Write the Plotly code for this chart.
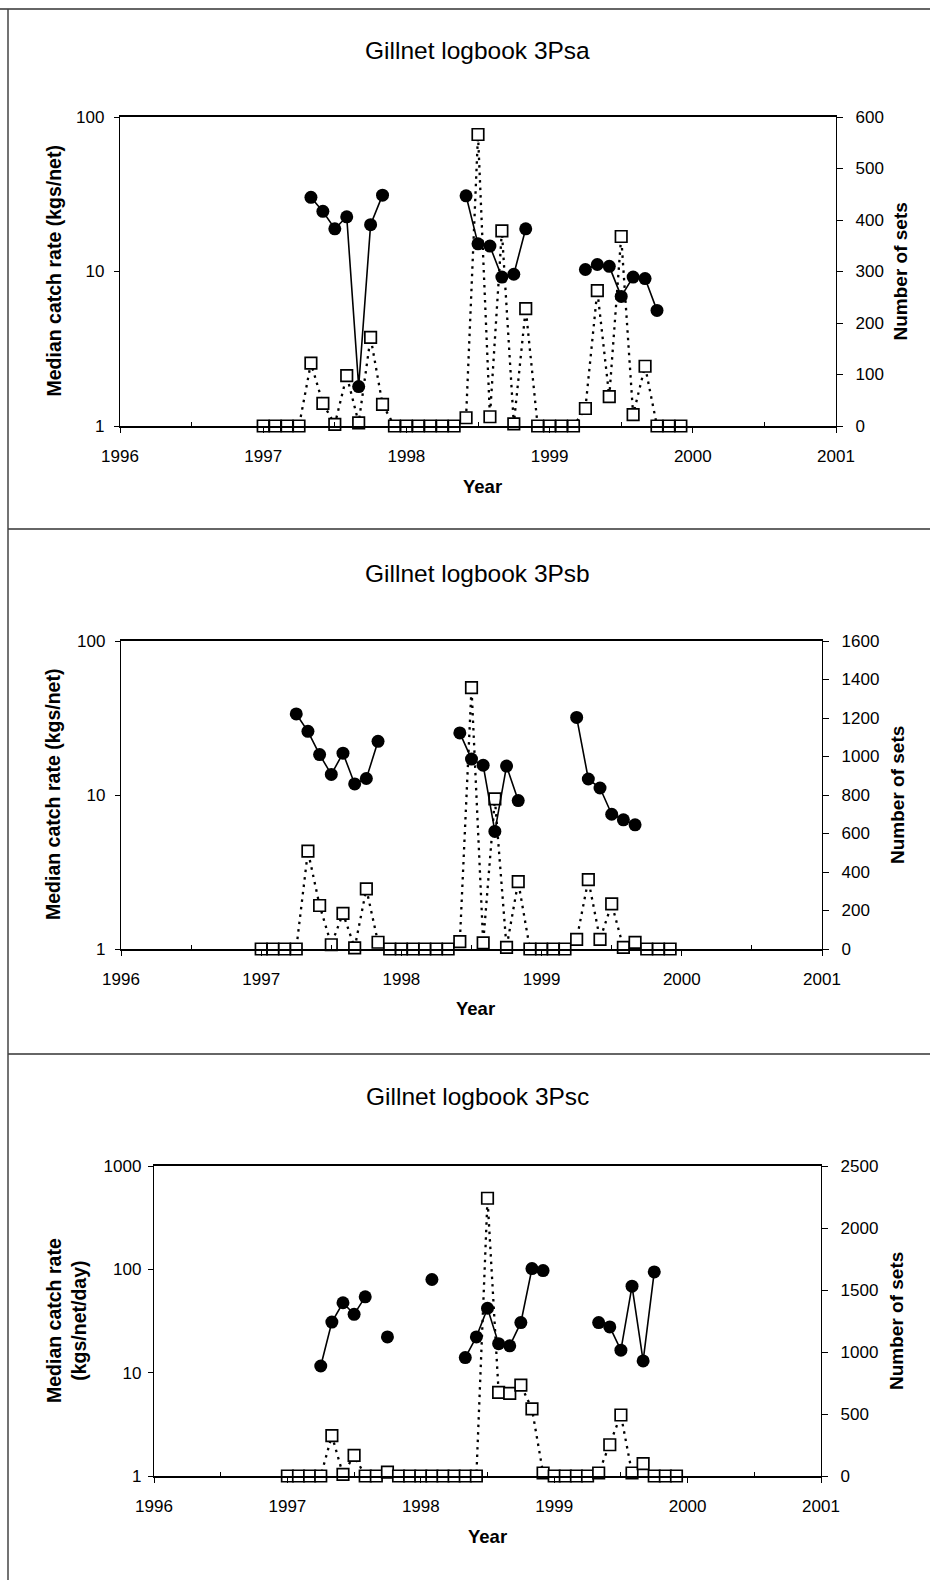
import plotly.graph_objects as go

W, H = 930, 1580

# ---------------- data ----------------
MONTHS = [f"{y}-{m:02d}" for y in (1997, 1998, 1999) for m in range(1, 13)]
X = [int(s[:4]) + (int(s[5:]) - 1) / 12 for s in MONTHS]

TITLES = ["Gillnet logbook 3Psa", "Gillnet logbook 3Psb", "Gillnet logbook 3Psc"]
LEFT_TITLES = ["Median catch rate (kgs/net)", "Median catch rate (kgs/net)",
               "Median catch rate<br>(kgs/net/day)"]
RIGHT_TITLE = "Number of sets"
X_TITLE = "Year"
YEAR_TICKS = [1996, 1997, 1998, 1999, 2000, 2001]

N = None
# 3Psa
sets_a = [0, 0, 0, 0, 122, 44, 3, 98, 6, 172, 42,
          0, 0, 0, 0, 0, 0,
          16, 566, 18, 379, 4, 228,
          0, 0, 0, 0,
          34, 263, 57, 368, 22, 116,
          0, 0, 0]
catch_a = [N, N, N, N, 30.2, 24.5, 18.9, 22.6, 1.8, 20.1, 31.2,
           N, N, N, N, N, N,
           30.9, 15.1, 14.6, 9.2, 9.6, 18.9,
           N, N, N, N,
           10.3, 11.1, 10.8, 6.9, 9.2, 9.0, 5.6,
           N, N]
# 3Psb
sets_b = [0, 0, 0, 0, 508, 226, 22, 185, 6, 312, 35,
          0, 0, 0, 0, 0, 0,
          38, 1358, 32, 780, 8, 350,
          0, 0, 0, 0,
          50, 360, 50, 234, 8, 34,
          0, 0, 0]
catch_b = [N, N, N, 33.6, 25.9, 18.3, 13.6, 18.7, 11.8, 12.8, 22.3,
           N, N, N, N, N, N,
           25.3, 17.1, 15.6, 5.8, 15.4, 9.2,
           N, N, N, N,
           31.9, 12.7, 11.1, 7.5, 6.9, 6.4,
           N, N, N]
# 3Psc
sets_c = [0, 0, 0, 0, 326, 13, 166, 0, 0, 32,
          0, 0, 0, 0, 0, 0, 0, 0,
          2240, 674, 666, 733, 541, 24,
          0, 0, 0, 0,
          24, 252, 492, 24, 99,
          0, 0, 0]
catch_c = [N, N, N, 11.6, 30.9, 47.5, 36.7, 54.2, N, 22.2,
           N, N, N, 79.7, N, N, 14.0, 22.2,
           42.0, 19.1, 18.2, 30.5, 101.8, 97.3,
           N, N, N, N,
           30.5, 27.7, 16.5, 68.7, 13.0, 94.4,
           N, N]

LOG_TICKS = [[1, 10, 100], [1, 10, 100], [1, 10, 100, 1000]]
SET_TICKS = [[0, 100, 200, 300, 400, 500, 600],
             [0, 200, 400, 600, 800, 1000, 1200, 1400, 1600],
             [0, 500, 1000, 1500, 2000, 2500]]

SETS = [sets_a, sets_b, sets_c]
CATCH = [catch_a, catch_b, catch_c]

# ---------------- layout geometry (pixels) ----------------
PANELS = [
    dict(l=120, r=836, t=117, b=426, title_y=51, xt_y=487, lt_x=53, rt_x=900),
    dict(l=121, r=822, t=641, b=949, title_y=574, xt_y=1009, lt_x=53, rt_x=897),
    dict(l=154, r=821, t=1166, b=1476, title_y=1096, xt_y=1536, lt_x=66, rt_x=896),
]

FONT = "Liberation Sans, Arial, Helvetica, sans-serif"

def px(x):
    return x / W

def py(y):
    return 1 - y / H

fig = go.Figure()
layout = dict(
    template="none",
    width=W, height=H, margin=dict(l=0, r=0, t=0, b=0, pad=0, autoexpand=False),
    paper_bgcolor="white", plot_bgcolor="white", showlegend=False,
    font=dict(family=FONT, color="black", size=17),
)
annotations = []
shapes = []

for i, p in enumerate(PANELS):
    k = i + 1
    xa = "x" if k == 1 else f"x{k}"
    ys = "y" if k == 1 else f"y{2 * k - 1}"
    yc = f"y{2 * k}"
    xkey = "xaxis" if k == 1 else f"xaxis{k}"
    yskey = "yaxis" if k == 1 else f"yaxis{2 * k - 1}"
    yckey = f"yaxis{2 * k}"

    fig.add_trace(go.Scatter(
        x=X, y=SETS[i], xaxis=xa, yaxis=ys, mode="lines+markers",
        line=dict(color="black", width=2.3, dash="2.5px,5px"),
        marker=dict(symbol="square", size=11.5, color="white",
                    line=dict(color="black", width=1.7)),
        cliponaxis=False, hoverinfo="skip"))
    fig.add_trace(go.Scatter(
        x=X, y=CATCH[i], xaxis=xa, yaxis=yc, mode="lines+markers",
        connectgaps=False,
        line=dict(color="black", width=1.6),
        marker=dict(symbol="circle", size=13, color="black"),
        cliponaxis=False, hoverinfo="skip"))

    layout[xkey] = dict(
        domain=[px(p["l"]), px(p["r"])], anchor=ys, automargin=False,
        range=[1996, 2001], tickvals=YEAR_TICKS,
        ticktext=[str(v) for v in YEAR_TICKS],
        ticks="outside", ticklen=5, tickwidth=1.2, tickcolor="black",
        ticklabelstandoff=9,
        minor=dict(tickvals=[v + 0.5 for v in YEAR_TICKS[:-1]], ticks="inside",
                   ticklen=4, tickcolor="black"),
        showline=True, linewidth=1.7, linecolor="black", mirror=True,
        showgrid=False, zeroline=False,
        tickfont=dict(size=17, family=FONT),
    )
    st = SET_TICKS[i]
    layout[yskey] = dict(
        domain=[py(p["b"]), py(p["t"])], anchor=xa, side="right", automargin=False,
        range=[st[0], st[-1]], tickvals=st, ticktext=[str(v) for v in st],
        ticks="outside", ticklen=6, tickwidth=1.2, tickcolor="black",
        ticklabelstandoff=9,
        showline=True, linewidth=1.4, linecolor="black",
        showgrid=False, zeroline=False, tickfont=dict(size=17, family=FONT),
    )
    lt = LOG_TICKS[i]
    layout[yckey] = dict(
        overlaying=ys, anchor=xa, side="left", type="log", automargin=False,
        range=[0, len(lt) - 1], tickvals=lt, ticktext=[str(v) for v in lt],
        ticks="outside", ticklen=5, tickwidth=1.2, tickcolor="black",
        ticklabelstandoff=6 if i < 2 else 3,
        showline=True, linewidth=1.4, linecolor="black",
        showgrid=False, zeroline=False, tickfont=dict(size=17, family=FONT),
    )

    cx = (p["l"] + p["r"]) / 2
    annotations.append(dict(
        text=TITLES[i], x=px(477), y=py(p["title_y"]), xref="paper", yref="paper",
        showarrow=False, xanchor="center", yanchor="middle",
        font=dict(size=24.5, family=FONT, color="black")))
    annotations.append(dict(
        text="<b>" + X_TITLE + "</b>", x=px(cx + 4 if i < 2 else cx), y=py(p["xt_y"]),
        xref="paper", yref="paper", showarrow=False,
        xanchor="center", yanchor="middle",
        font=dict(size=18.5, family=FONT, color="black")))
    mid = (p["t"] + p["b"]) / 2
    annotations.append(dict(
        text="<b>" + LEFT_TITLES[i] + "</b>", x=px(p["lt_x"]), y=py(mid),
        xref="paper", yref="paper", showarrow=False, textangle=-90,
        xanchor="center", yanchor="middle",
        font=dict(size=19.5, family=FONT, color="black")))
    annotations.append(dict(
        text="<b>" + RIGHT_TITLE + "</b>", x=px(p["rt_x"]), y=py(mid),
        xref="paper", yref="paper", showarrow=False, textangle=-90,
        xanchor="center", yanchor="middle",
        font=dict(size=19, family=FONT, color="black")))

# page frame lines
def hline(y, x0=8, x1=930):
    shapes.append(dict(type="line", xref="paper", yref="paper",
                       x0=px(x0), x1=px(x1), y0=py(y), y1=py(y),
                       line=dict(color="#333", width=1.5)))

hline(9, 0, 930)
hline(529)
hline(1054)
shapes.append(dict(type="line", xref="paper", yref="paper",
                   x0=px(8), x1=px(8), y0=py(9), y1=py(1580),
                   line=dict(color="#444", width=1.5)))

layout["annotations"] = annotations
layout["shapes"] = shapes
fig.update_layout(**layout)

fig.write_html("out.html")
